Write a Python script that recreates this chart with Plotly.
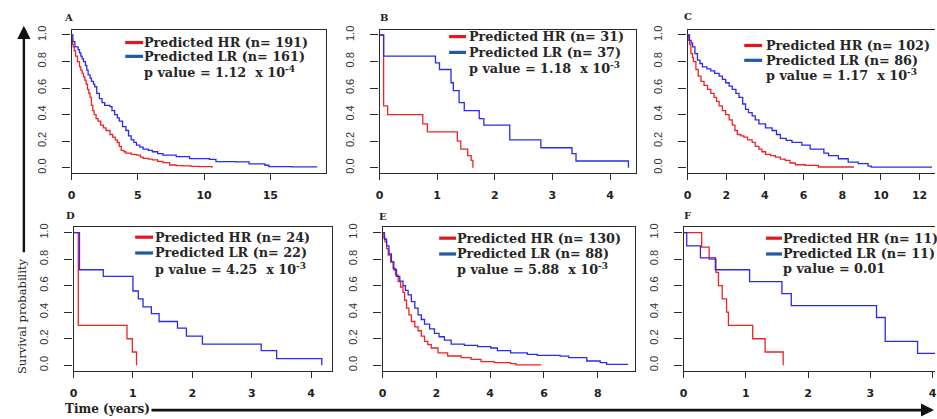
import plotly.graph_objects as go

W, H = 937, 419

# ---- Kaplan-Meier step data (time in years, survival probability) ----
A_hr_t = [0, 0.03, 0.08, 0.12, 0.2, 0.3, 0.45, 0.6, 0.7, 0.8, 0.9, 1.0, 1.1, 1.2, 1.3, 1.4, 1.5, 1.6, 1.7, 1.85, 2.0, 2.2, 2.4, 2.6, 2.9, 3.1, 3.3, 3.45, 3.6, 3.75, 3.95, 4.1, 4.5, 4.9, 5.2, 5.4, 5.8, 6.1, 6.5, 6.9, 7.4, 7.9, 8.4, 9.0, 9.6, 10.6]
A_hr_s = [1.0, 0.96, 0.93, 0.91, 0.88, 0.84, 0.80, 0.76, 0.735, 0.71, 0.685, 0.66, 0.63, 0.59, 0.56, 0.53, 0.47, 0.43, 0.40, 0.37, 0.35, 0.32, 0.30, 0.28, 0.25, 0.23, 0.21, 0.19, 0.16, 0.13, 0.12, 0.11, 0.10, 0.095, 0.08, 0.07, 0.065, 0.058, 0.048, 0.038, 0.02, 0.016, 0.013, 0.01, 0.008, 0.0]
A_lr_t = [0, 0.1, 0.25, 0.5, 0.6, 0.7, 0.8, 0.9, 1.05, 1.15, 1.25, 1.4, 1.5, 1.65, 1.75, 1.9, 2.1, 2.3, 2.5, 2.9, 3.05, 3.25, 3.45, 3.6, 3.85, 4.1, 4.3, 4.5, 4.7, 4.9, 5.15, 5.4, 5.8, 6.1, 6.5, 6.9, 7.9, 8.9, 10.4, 10.9, 12.4, 13.4, 14.6, 14.9, 16.6, 18.5]
A_lr_s = [1.0, 0.95, 0.91, 0.89, 0.865, 0.84, 0.82, 0.80, 0.77, 0.735, 0.70, 0.675, 0.65, 0.63, 0.61, 0.56, 0.52, 0.49, 0.47, 0.46, 0.43, 0.40, 0.375, 0.35, 0.31, 0.28, 0.24, 0.21, 0.19, 0.17, 0.155, 0.14, 0.13, 0.12, 0.105, 0.095, 0.083, 0.068, 0.063, 0.045, 0.043, 0.028, 0.018, 0.008, 0.006, 0.003]

B_hr_t = [0, 0.07, 0.14, 0.75, 0.83, 1.35, 1.41, 1.53, 1.59, 1.62]
B_hr_s = [1.0, 0.465, 0.40, 0.33, 0.27, 0.20, 0.14, 0.09, 0.055, 0.0]
B_lr_t = [0, 0.07, 0.97, 1.04, 1.24, 1.28, 1.38, 1.47, 1.73, 1.81, 2.26, 2.80, 3.34, 3.41, 4.32]
B_lr_s = [1.0, 0.84, 0.79, 0.74, 0.64, 0.58, 0.49, 0.43, 0.37, 0.32, 0.21, 0.15, 0.105, 0.05, 0.0]

C_hr_t = [0, 0.05, 0.1, 0.17, 0.25, 0.3, 0.43, 0.55, 0.69, 0.85, 1.03, 1.2, 1.37, 1.5, 1.63, 1.8, 1.97, 2.15, 2.31, 2.45, 2.57, 2.75, 2.91, 3.1, 3.34, 3.5, 3.69, 3.85, 4.03, 4.3, 4.54, 4.8, 5.06, 5.3, 5.57, 6.09, 6.77, 8.57]
C_hr_s = [1.0, 0.96, 0.93, 0.86, 0.83, 0.80, 0.74, 0.69, 0.65, 0.62, 0.59, 0.56, 0.53, 0.50, 0.465, 0.43, 0.40, 0.36, 0.32, 0.28, 0.25, 0.24, 0.23, 0.21, 0.19, 0.16, 0.14, 0.12, 0.10, 0.09, 0.08, 0.065, 0.055, 0.035, 0.022, 0.017, 0.005, 0.0]
C_lr_t = [0, 0.1, 0.18, 0.26, 0.38, 0.51, 0.64, 0.77, 1.0, 1.2, 1.4, 1.63, 1.8, 1.97, 2.15, 2.31, 2.5, 2.66, 2.85, 3.0, 3.15, 3.34, 3.5, 3.69, 4.03, 4.37, 4.6, 4.8, 5.1, 5.4, 5.91, 6.34, 6.86, 7.05, 7.29, 7.8, 8.31, 8.83, 9.34, 9.5, 12.65]
C_lr_s = [1.0, 0.96, 0.94, 0.91, 0.86, 0.81, 0.785, 0.76, 0.745, 0.73, 0.71, 0.69, 0.665, 0.64, 0.615, 0.59, 0.56, 0.53, 0.48, 0.44, 0.415, 0.39, 0.36, 0.33, 0.30, 0.28, 0.25, 0.22, 0.205, 0.19, 0.17, 0.14, 0.14, 0.11, 0.09, 0.067, 0.042, 0.03, 0.012, 0.004, 0.004]

D_hr_t = [0, 0.08, 0.90, 0.99, 1.06]
D_hr_s = [1.0, 0.30, 0.20, 0.10, 0.0]
D_lr_t = [0, 0.10, 0.50, 1.0, 1.09, 1.17, 1.31, 1.44, 1.75, 1.90, 2.17, 3.16, 3.42, 4.18]
D_lr_s = [1.0, 0.72, 0.67, 0.56, 0.50, 0.44, 0.39, 0.33, 0.28, 0.22, 0.16, 0.11, 0.05, 0.0]

E_hr_t = [0, 0.05, 0.09, 0.15, 0.21, 0.3, 0.39, 0.48, 0.58, 0.67, 0.76, 0.82, 0.89, 0.98, 1.07, 1.2, 1.32, 1.44, 1.56, 1.68, 1.81, 2.06, 2.42, 2.92, 3.29, 3.66, 4.15, 4.76, 4.95, 5.87]
E_hr_s = [1.0, 0.96, 0.93, 0.88, 0.83, 0.78, 0.73, 0.68, 0.63, 0.59, 0.55, 0.49, 0.43, 0.38, 0.33, 0.29, 0.26, 0.22, 0.18, 0.155, 0.13, 0.094, 0.07, 0.057, 0.045, 0.027, 0.02, 0.012, 0.0025, 0.0]
E_lr_t = [0, 0.07, 0.15, 0.24, 0.33, 0.42, 0.52, 0.64, 0.76, 0.85, 0.95, 1.07, 1.2, 1.32, 1.44, 1.56, 1.75, 1.93, 2.1, 2.3, 2.55, 3.04, 3.53, 4.02, 4.27, 4.76, 5.38, 5.75, 6.6, 6.92, 7.59, 8.09, 8.33, 9.1]
E_lr_s = [1.0, 0.95, 0.90, 0.84, 0.78, 0.72, 0.67, 0.635, 0.60, 0.565, 0.53, 0.48, 0.43, 0.38, 0.345, 0.31, 0.275, 0.24, 0.215, 0.19, 0.16, 0.15, 0.14, 0.13, 0.11, 0.094, 0.082, 0.074, 0.069, 0.057, 0.032, 0.02, 0.007, 0.004]

F_hr_t = [0, 0.29, 0.41, 0.52, 0.56, 0.62, 0.69, 0.72, 1.11, 1.31, 1.60]
F_hr_s = [1.0, 0.89, 0.80, 0.70, 0.60, 0.50, 0.40, 0.30, 0.20, 0.10, 0.0]
F_lr_t = [0, 0.05, 0.27, 0.51, 1.06, 1.58, 1.73, 3.10, 3.24, 3.76, 4.2]
F_lr_s = [1.0, 0.90, 0.81, 0.72, 0.63, 0.54, 0.45, 0.36, 0.18, 0.09, 0.09]

panel_letters = ["A", "B", "C", "D", "E", "F"]
n_hr = [191, 31, 102, 24, 130, 11]
n_lr = [161, 37, 86, 22, 88, 11]
p_values = ["1.12  x 10<sup>-4</sup>", "1.18  x 10<sup>-3</sup>", "1.17  x 10<sup>-3</sup>",
            "4.25  x 10<sup>-3</sup>", "5.88  x 10<sup>-3</sup>", "0.01"]
x_ticks = [[0, 5, 10, 15], [0, 1, 2, 3, 4], [0, 2, 4, 6, 8, 10, 12],
           [0, 1, 2, 3, 4], [0, 2, 4, 6, 8], [0, 1, 2, 3, 4]]
x_max = [19.2, 4.45, 12.8, 4.35, 9.38, 4.04]
y_ticks = [0.0, 0.2, 0.4, 0.6, 0.8, 1.0]

curves = [
    (A_hr_t, A_hr_s, A_lr_t, A_lr_s),
    (B_hr_t, B_hr_s, B_lr_t, B_lr_s),
    (C_hr_t, C_hr_s, C_lr_t, C_lr_s),
    (D_hr_t, D_hr_s, D_lr_t, D_lr_s),
    (E_hr_t, E_hr_s, E_lr_t, E_lr_s),
    (F_hr_t, F_hr_s, F_lr_t, F_lr_s),
]

# ---- layout geometry (pixels) ----
box_x = [(68, 324), (378, 636), (688, 937), (70, 330), (381, 635), (684, 937)]
box_y = [(26, 171), (26, 171), (26, 171), (226, 371), (226, 371), (226, 371)]
legend_pos = [  # swatch x0, swatch x1, text x, row centres
    (122, 140, 142, (39, 53, 69)),
    (448, 465, 469, (33, 49, 65)),
    (745, 763, 768, (42, 57, 72)),
    (132, 150, 153, (236, 252, 268)),
    (438, 455, 457, (237, 253, 268)),
    (767, 783, 785, (237, 253, 268)),
]
letter_pos = [(65, 14), (382, 14), (688, 13), (67, 214), (381, 215), (688, 214)]

RED = "#f02222"
BLUE = "#2a2aec"
RED_KEY = "#e3161b"
BLUE_KEY = "#1f5aa6"
AXIS = "#2a2a2a"
SERIF = "DejaVu Serif"


def px(x):
    return x / W


def py(y):
    return 1 - y / H


fig = go.Figure()
layout = dict(
    width=W, height=H, margin=dict(l=0, r=0, t=0, b=0),
    paper_bgcolor="white", plot_bgcolor="white", showlegend=False,
)
shapes, annotations = [], []

for i in range(6):
    k = "" if i == 0 else str(i + 1)
    hr_t, hr_s, lr_t, lr_s = curves[i]
    fig.add_trace(go.Scatter(x=hr_t, y=hr_s, mode="lines", line=dict(color=RED, width=1.3, shape="hv"),
                             xaxis="x" + k, yaxis="y" + k))
    fig.add_trace(go.Scatter(x=lr_t, y=lr_s, mode="lines", line=dict(color=BLUE, width=1.3, shape="hv"),
                             xaxis="x" + k, yaxis="y" + k))
    x0, x1 = box_x[i]
    y0, y1 = box_y[i]
    right_edge = x1 >= W
    layout["xaxis" + k] = dict(
        domain=[px(x0), px(x1)], anchor="y" + k, range=[0, x_max[i]],
        tickvals=x_ticks[i], ticks="outside", ticklen=6, tickwidth=1.3, tickcolor=AXIS,
        showline=True, linecolor=AXIS, linewidth=1.4, mirror=True,
        showgrid=False, zeroline=False, ticklabelstandoff=6, ticklabeloverflow="allow",
        tickfont=dict(family="DejaVu Sans", size=11, color="#222", weight="bold"),
    )
    layout["yaxis" + k] = dict(
        domain=[py(y1), py(y0)], anchor="x" + k, range=[-0.04, 1.04],
        tickvals=y_ticks, ticktext=["%.1f" % v for v in y_ticks], tickangle=-90,
        ticks="outside", ticklen=8, tickwidth=1.3, tickcolor=AXIS,
        showline=True, linecolor=AXIS, linewidth=1.4, mirror=not right_edge,
        showgrid=False, zeroline=False, ticklabelstandoff=12,
        tickfont=dict(family="Liberation Sans", size=11, color="#333"),
    )

    # legend block
    sx0, sx1, tx, rows = legend_pos[i]
    for row, col in zip(rows[:2], (RED_KEY, BLUE_KEY)):
        shapes.append(dict(type="line", xref="paper", yref="paper",
                           x0=px(sx0), x1=px(sx1), y0=py(row), y1=py(row),
                           line=dict(color=col, width=3.2)))
    texts = ["Predicted HR (n= %d)" % n_hr[i], "Predicted LR (n= %d)" % n_lr[i],
             "p value = " + p_values[i]]
    for row, t in zip(rows, texts):
        annotations.append(dict(text=t, x=px(tx - 3), y=py(row), xref="paper", yref="paper",
                                xanchor="left", yanchor="middle", showarrow=False,
                                font=dict(family=SERIF, size=12.8, color="#262626", weight="bold")))
    lx, ly = letter_pos[i]
    annotations.append(dict(text=panel_letters[i], x=px(lx), y=py(ly),
                            xref="paper", yref="paper", xanchor="center", yanchor="middle",
                            showarrow=False, font=dict(family=SERIF, size=10, color="#222", weight="bold")))

# shared axis titles with arrows
annotations.append(dict(text="", x=px(20), y=py(22), xref="paper", yref="paper",
                        ax=0, ay=228, axref="pixel", ayref="pixel", showarrow=True,
                        arrowhead=2, arrowsize=1.1, arrowwidth=2.4, arrowcolor="#111"))
annotations.append(dict(text="", x=px(936), y=py(411), xref="paper", yref="paper",
                        ax=-784, ay=0, axref="pixel", ayref="pixel", showarrow=True,
                        arrowhead=2, arrowsize=1.0, arrowwidth=2.6, arrowcolor="#111"))
annotations.append(dict(text="Survival probability", x=px(18), y=py(316), xref="paper", yref="paper",
                        textangle=-90, showarrow=False, xanchor="center", yanchor="middle",
                        font=dict(family=SERIF, size=11.5, color="#222")))
annotations.append(dict(text="Time (years)", x=px(104), y=py(410), xref="paper", yref="paper",
                        showarrow=False, xanchor="center", yanchor="middle",
                        font=dict(family=SERIF, size=12, color="#222", weight="bold")))

layout["shapes"] = shapes
layout["annotations"] = annotations
fig.update_layout(**layout)
fig.write_html("out.html")
